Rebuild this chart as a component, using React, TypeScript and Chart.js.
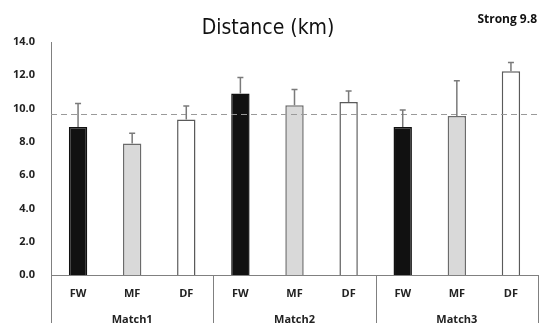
import React, { useEffect, useRef } from "react";
import { Chart, registerables } from "chart.js";

Chart.register(...registerables);

const categories = ["FW", "MF", "DF", "FW", "MF", "DF", "FW", "MF", "DF"];
const matches = ["Match1", "Match2", "Match3"];
const means = [8.9, 7.9, 9.35, 10.9, 10.2, 10.4, 8.9, 9.55, 12.25];
const errors = [1.4, 0.62, 0.8, 0.97, 0.94, 0.66, 1.02, 2.12, 0.52];
const referenceValue = 9.7;
const yTicks = [0, 2, 4, 6, 8, 10, 12, 14];
const titleText = "Distance (km)";
const noteText = "Strong 9.8";

const fillByPos: Record<string, string> = { FW: "#111111", MF: "#d9d9d9", DF: "#ffffff" };
const borderByPos: Record<string, string> = { FW: "#111111", MF: "#6b6b6b", DF: "#5a5a5a" };

const TICK_FONT = "'Open Sans', Lato, sans-serif";

export default function App() {
  const ref = useRef<HTMLCanvasElement | null>(null);
  useEffect(() => {
    document.body.style.margin = "0";
    const canvas = ref.current!;
    const overlay = {
      id: "overlay",
      afterDatasetsDraw(chart: any) {
        const ctx = chart.ctx;
        const y = chart.scales.y;
        const meta = chart.getDatasetMeta(0);
        const area = chart.chartArea;
        ctx.save();
        // reference dashed line
        ctx.strokeStyle = "#9a9a9a";
        ctx.lineWidth = 1;
        ctx.setLineDash([6, 4]);
        const ry = Math.round(y.getPixelForValue(referenceValue)) + 0.5;
        ctx.beginPath();
        ctx.moveTo(area.left, ry);
        ctx.lineTo(area.right, ry);
        ctx.stroke();
        ctx.setLineDash([]);
        // error bars
        ctx.strokeStyle = "#7a7a7a";
        ctx.lineWidth = 1.5;
        meta.data.forEach((bar: any, i: number) => {
          const cx = bar.x;
          const top = y.getPixelForValue(means[i]);
          const et = y.getPixelForValue(means[i] + errors[i]);
          ctx.beginPath();
          ctx.moveTo(cx, top);
          ctx.lineTo(cx, et);
          ctx.moveTo(cx - 3, et);
          ctx.lineTo(cx + 3, et);
          ctx.stroke();
        });
        // group separators
        ctx.strokeStyle = "#808080";
        ctx.lineWidth = 1;
        const n = categories.length;
        const step = (area.right - area.left) / n;
        const bounds = [0, 3, 6, 9];
        bounds.forEach((b) => {
          const px = Math.round(area.left + b * step) + 0.5;
          ctx.beginPath();
          ctx.moveTo(px, area.bottom);
          ctx.lineTo(px, chart.height);
          ctx.stroke();
        });
        // group labels
        ctx.fillStyle = "#222";
        ctx.font = `bold 11px ${TICK_FONT}`;
        ctx.textAlign = "center";
        ctx.textBaseline = "middle";
        matches.forEach((m, k) => {
          const cxm = area.left + (k * 3 + 1.5) * step;
          ctx.fillText(m, cxm, 320);
        });
        // title
        ctx.fillStyle = "#111";
        try {
          (ctx as any).fontStretch = "condensed";
        } catch (e) {}
        ctx.font = "21px 'DejaVu Sans', 'Noto Sans', sans-serif";
        try {
          (ctx as any).fontStretch = "condensed";
        } catch (e) {}
        ctx.fillText(titleText, 268, 29);
        try {
          (ctx as any).fontStretch = "normal";
        } catch (e) {}
        ctx.font = `bold 12px ${TICK_FONT}`;
        ctx.textAlign = "right";
        ctx.fillText(noteText, 537, 20);
        ctx.restore();
      },
    };
    const chart = new Chart(canvas, {
      type: "bar",
      data: {
        labels: categories,
        datasets: [
          {
            data: means,
            backgroundColor: categories.map((c) => fillByPos[c]),
            borderColor: categories.map((c) => borderByPos[c]),
            borderWidth: 1.5,
            barPercentage: 0.34,
            categoryPercentage: 1,
          },
        ],
      },
      options: {
        responsive: false,
        animation: false,
        layout: { padding: { top: 42, right: 2, left: 0, bottom: 0 } },
        plugins: { legend: { display: false }, tooltip: { enabled: false }, title: { display: false } },
        scales: {
          x: {
            grid: { display: false, drawTicks: false },
            border: { display: true, color: "#808080", width: 1 },
            ticks: { color: "#222", font: { family: TICK_FONT, size: 11, weight: "bold" }, padding: 12 },
            afterFit: (s: any) => {
              s.height = 48;
            },
          },
          y: {
            min: 0,
            max: 14,
            afterBuildTicks: (s: any) => {
              s.ticks = yTicks.map((v) => ({ value: v }));
            },
            grid: { display: false, drawTicks: false },
            border: { display: true, color: "#808080", width: 1 },
            ticks: {
              color: "#222",
              font: { family: TICK_FONT, size: 11, weight: "bold" },
              padding: 16,
              callback: (v: any) => Number(v).toFixed(1),
            },
            afterFit: (s: any) => {
              s.width = 51;
            },
          },
        },
      },
      plugins: [overlay],
    });
    return () => chart.destroy();
  }, []);
  return (
    <div style={{ width: 540, height: 323 }}>
      <canvas ref={ref} width={540} height={323} />
    </div>
  );
}
